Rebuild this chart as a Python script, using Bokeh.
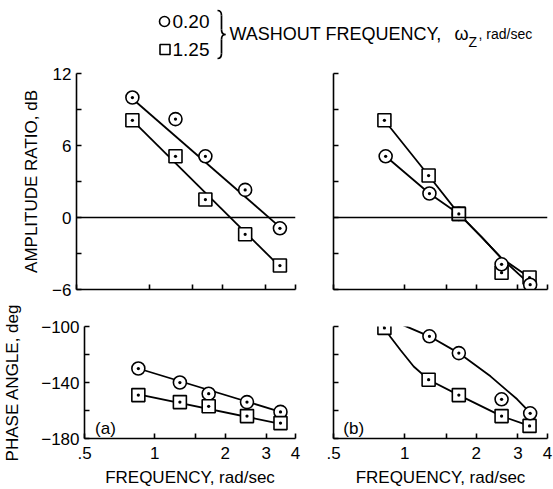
from bokeh.plotting import figure
from bokeh.layouts import column, row
from bokeh.models import Range1d, FixedTicker, Span, Label
from bokeh.embed import file_html
from bokeh.resources import INLINE

FONT = "Liberation Sans"

# ---------------- data ----------------
series_labels = ["0.20", "1.25"]
x_ticks = [0.5, 1, 2, 3, 4]
x_tick_labels = [".5", "1", "2", "3", "4"]
x_minor = [1.5]

# panel (a)
freq_a = [0.85, 1.28, 1.70, 2.48, 3.45]
amp_a_020 = [10.0, 8.2, 5.1, 2.3, -0.9]
amp_a_125 = [8.1, 5.1, 1.5, -1.4, -4.0]
phase_a_020 = [-130, -140, -148, -154, -161]
phase_a_125 = [-149, -154, -157, -164, -169]
# faired lines (a)
fit_freq_a = [0.85, 3.45]
amp_fit_a_020 = [9.9, -0.8]
amp_fit_a_125 = [8.1, -4.1]
phase_fit_a_020 = [-130, -161]
phase_fit_a_125 = [-148.5, -169.5]

# panel (b)
freq_b_020 = [0.83, 1.27, 1.69, 2.56, 3.38]
freq_b_125 = [0.82, 1.26, 1.69, 2.56, 3.36]
amp_b_020 = [5.1, 2.0, 0.3, -3.9, -5.6]
amp_b_125 = [8.1, 3.5, 0.3, -4.6, -5.0]
phase_b_020 = [-94, -107, -119, -152, -162]
phase_b_125 = [-101, -138, -149, -164, -171]
# faired curves (b)
amp_curve_freq_020 = [0.83, 1.27, 1.69, 2.1, 2.56, 3.38]
amp_curve_020 = [5.1, 2.0, 0.3, -1.6, -3.4, -5.6]
amp_curve_freq_125 = [0.82, 1.26, 1.69, 2.1, 2.56, 3.36]
amp_curve_125 = [8.1, 3.5, 0.3, -1.6, -3.4, -5.0]
phase_curve_freq_up = [0.80, 0.83, 1.0, 1.27, 1.69, 2.3, 2.98, 3.4]
phase_curve_up = [-97, -94.5, -99.5, -107, -119, -135.6, -152, -162]
phase_curve_freq_lo = [0.80, 0.82, 0.87, 0.96, 1.09, 1.26, 1.69, 2.56, 3.36]
phase_curve_lo = [-97, -101, -107.5, -117, -128.6, -138, -149, -164, -171]

amp_ticks = [-6, 0, 6, 12]
amp_minor = [-3, 3, 9]
phase_ticks = [-180, -140, -100]
phase_minor = [-160, -120]

LW_ = 1.8


def panel(width, height, ylo, yhi, yticks, yminor, mbl, mbr, mbt, mbb,
          show_x, show_y, ylabel=None, ystandoff=10):
    p = figure(width=width, height=height, x_axis_type="log",
               x_range=Range1d(0.5, 4), y_range=Range1d(ylo, yhi),
               toolbar_location=None, output_backend="svg",
               min_border_left=mbl, min_border_right=mbr,
               min_border_top=mbt, min_border_bottom=mbb,
               background_fill_color="white", border_fill_color="white")
    p.outline_line_color = None
    p.grid.visible = False
    xa = p.xaxis[0]
    ya = p.yaxis[0]
    if show_x:
        xa.ticker = FixedTicker(ticks=x_ticks, minor_ticks=x_minor)
        xa.major_label_overrides = {t: s for t, s in zip(x_ticks, x_tick_labels)}
        xa.axis_label = "FREQUENCY, rad/sec"
        xa.major_label_standoff = 8
        xa.axis_label_standoff = 6
    else:
        xa.ticker = FixedTicker(ticks=[], minor_ticks=sorted(x_ticks + x_minor))
        xa.major_label_standoff = 0
    if show_y:
        ya.ticker = FixedTicker(ticks=yticks, minor_ticks=yminor)
        ya.major_label_standoff = 5
        ya.axis_label = ylabel
        ya.axis_label_standoff = ystandoff
    else:
        ya.ticker = FixedTicker(ticks=[], minor_ticks=sorted(yticks + yminor))
        ya.major_label_standoff = 0
    for ax in (xa, ya):
        ax.axis_line_width = 1.6
        ax.axis_line_color = "black"
        ax.major_tick_line_color = "black"
        ax.minor_tick_line_color = "black"
        ax.major_tick_line_width = 1.6
        ax.minor_tick_line_width = 1.6
        ax.major_tick_in = 5
        ax.major_tick_out = 0
        ax.minor_tick_in = 5
        ax.minor_tick_out = 0
        ax.major_label_text_font = FONT
        ax.major_label_text_font_size = "17px"
        ax.major_label_text_color = "black"
        ax.axis_label_text_font = FONT
        ax.axis_label_text_font_size = "17px"
        ax.axis_label_text_font_style = "normal"
        ax.axis_label_text_color = "black"
    return p


def add_pts(p, fx, fy, marker):
    p.scatter(fx, fy, marker=marker, size=13, fill_color="white",
              line_color="black", line_width=1.6)


def lab(p, x, y, text, size):
    p.add_layout(Label(x=x, y=y, text=text, text_baseline="middle",
                       text_font=FONT, text_font_size=size, text_color="black"))


W_A, W_B = 310, 243
H_LEG, H_TOP, H_BOT = 61, 238, 190

# top-left amplitude (a)
pa = panel(W_A, H_TOP, -6, 12, amp_ticks, amp_minor, 76, 15, 12, 10,
           False, True, "AMPLITUDE RATIO, dB", 8)
pa.add_layout(Span(location=0, dimension="width", line_color="black", line_width=1.4))
pa.line(fit_freq_a, amp_fit_a_020, line_color="black", line_width=LW_)
pa.line(fit_freq_a, amp_fit_a_125, line_color="black", line_width=LW_)
add_pts(pa, freq_a, amp_a_020, "circle_dot")
add_pts(pa, freq_a, amp_a_125, "square_dot")

# top-right amplitude (b)
pb = panel(W_B, H_TOP, -6, 12, amp_ticks, amp_minor, 23, 6, 12, 10,
           False, False)
pb.add_layout(Span(location=0, dimension="width", line_color="black", line_width=1.4))
pb.line(amp_curve_freq_020, amp_curve_020, line_color="black", line_width=LW_)
pb.line(amp_curve_freq_125, amp_curve_125, line_color="black", line_width=LW_)
add_pts(pb, freq_b_125, amp_b_125, "square_dot")
add_pts(pb, freq_b_020, amp_b_020, "circle_dot")
# coincident point at the crossover: the square is the one seen on top
add_pts(pb, freq_b_125[2:3], amp_b_125[2:3], "square_dot")

# bottom-left phase (a)
qa = panel(W_A, H_BOT, -180, -100, phase_ticks, phase_minor, 76, 15, 27, 49,
           True, True, "PHASE ANGLE, deg", 16)
qa.line(fit_freq_a, phase_fit_a_020, line_color="black", line_width=LW_)
qa.line(fit_freq_a, phase_fit_a_125, line_color="black", line_width=LW_)
add_pts(qa, freq_a, phase_a_020, "circle_dot")
add_pts(qa, freq_a, phase_a_125, "square_dot")
lab(qa, 0.555, -173, "(a)", "17px")

# bottom-right phase (b)
qb = panel(W_B, H_BOT, -180, -100, phase_ticks, phase_minor, 23, 6, 27, 49,
           True, False)
qb.line(phase_curve_freq_up, phase_curve_up, line_color="black", line_width=LW_)
qb.line(phase_curve_freq_lo, phase_curve_lo, line_color="black", line_width=LW_)
add_pts(qb, freq_b_125, phase_b_125, "square_dot")
add_pts(qb, freq_b_020, phase_b_020, "circle_dot")
lab(qb, 0.55, -173, "(b)", "17px")

# legend strip (pixel-space figure)
LWID = W_A + W_B
lg = figure(width=LWID, height=H_LEG, x_range=Range1d(0, LWID), y_range=Range1d(H_LEG, 0),
            x_axis_type=None, y_axis_type=None, toolbar_location=None,
            output_backend="svg", min_border=0)
lg.outline_line_color = None
lg.scatter([164], [21], marker="circle", size=10, fill_color=None,
           line_color="black", line_width=1.6)
lg.scatter([164.5], [49], marker="square", size=10, fill_color=None,
           line_color="black", line_width=1.6)
lab(lg, 172, 21, series_labels[0], "19px")
lab(lg, 172, 49, series_labels[1], "19px")
# brace
bx0, bxm, bx1, top, mid, bot = 217, 221, 225, 10, 34, 58
lg.quadratic(x0=[bx0, bxm, bx1, bxm], y0=[top, mid - 5, mid, bot - 5],
             x1=[bxm, bx1, bxm, bx0], y1=[top + 5, mid, mid + 5, bot],
             cx=[bxm, bxm, bxm, bxm], cy=[top, mid, mid, bot],
             line_color="black", line_width=1.7)
lg.segment(x0=[bxm, bxm], y0=[top + 5, mid + 5], x1=[bxm, bxm], y1=[mid - 5, bot - 5],
           line_color="black", line_width=1.7)
lab(lg, 229, 33, "WASHOUT FREQUENCY,", "18px")
lab(lg, 454, 33, "\u03c9", "18px")
lab(lg, 468, 41, "Z", "14px")
lab(lg, 478, 33, ", rad/sec", "14px")

layout = column(lg, row(pa, pb), row(qa, qb))
open("out.html", "w").write(file_html(layout, INLINE))
